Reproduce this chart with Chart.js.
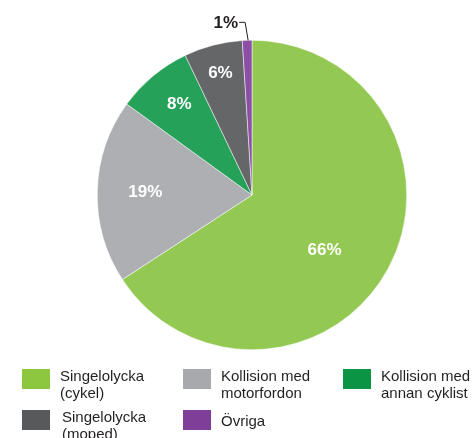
<!DOCTYPE html>
<html>
<head>
<meta charset="utf-8">
<script src="https://cdn.jsdelivr.net/npm/chart.js@4/dist/chart.umd.min.js"></script>
<style>
    body { margin: 0; background: #fff; }
    #wrap { position: relative; width: 476px; height: 438px; overflow: hidden; }
    #legend { position: absolute; left: 0; top: 0; width: 476px; height: 438px; font-family: "Liberation Sans", Arial, sans-serif; font-size: 15px; color: #231f20; line-height: 17px; }
    .item { position: absolute; }
    .box { position: absolute; width: 28px; height: 20px; }
    .txt { position: absolute; white-space: nowrap; }
</style>
</head>
<body>
<div id="wrap">
    <canvas id="myChart" width="476" height="438"></canvas>
    <div id="legend"></div>
</div>
<script>
const categories = ['Singelolycka (cykel)', 'Kollision med motorfordon', 'Kollision med annan cyklist', 'Singelolycka (moped)', 'Övriga'];
const legendLines = [['Singelolycka', '(cykel)'], ['Kollision med', 'motorfordon'], ['Kollision med', 'annan cyklist'], ['Singelolycka', '(moped)'], ['Övriga']];
const shares = [65.8, 19.2, 7.9, 6.1, 1.0];
const pctLabels = ['66%', '19%', '8%', '6%', '1%'];
const sliceColors = ['#93c952', '#aeafb3', '#25a159', '#656668', '#8b4fa6'];
const legendColors = ['#8dc63f', '#a7a9ac', '#0a9444', '#58595b', '#7f3f98'];

// placement of the percentage labels (fraction of radius, angle shift in degrees)
const labelPlace = [[0.59, 9], [0.69, 0], [0.75, 1], [0.81, 0]];

const pctPlugin = {
    id: 'pctLabels',
    afterDatasetsDraw(chart) {
        const ctx = chart.ctx;
        const arcs = chart.getDatasetMeta(0).data;
        ctx.save();
        ctx.font = 'bold 17px "Liberation Sans", Arial, sans-serif';
        ctx.textAlign = 'center';
        ctx.textBaseline = 'middle';
        arcs.forEach(function (arc, i) {
            const mid = (arc.startAngle + arc.endAngle) / 2;
            if (i < labelPlace.length) {
                const a = mid + labelPlace[i][1] * Math.PI / 180;
                const r = arc.outerRadius * labelPlace[i][0];
                ctx.fillStyle = '#ffffff';
                ctx.fillText(pctLabels[i], arc.x + Math.cos(a) * r, arc.y + Math.sin(a) * r);
            } else {
                // small slice: label outside with leader line
                const ex = arc.x + Math.cos(mid) * arc.outerRadius;
                const ey = arc.y + Math.sin(mid) * arc.outerRadius;
                ctx.strokeStyle = '#231f20';
                ctx.lineWidth = 1;
                ctx.beginPath();
                ctx.moveTo(ex + 1, ey);
                ctx.lineTo(ex - 2, ey - 18);
                ctx.lineTo(ex - 8, ey - 18);
                ctx.stroke();
                ctx.fillStyle = '#231f20';
                ctx.textAlign = 'right';
                ctx.fillText(pctLabels[i], ex - 9, ey - 17);
            }
        });
        ctx.restore();
    }
};

function buildLegend() {
    const pos = [[22, 369], [183, 369], [343, 369], [22, 410], [183, 410]];
    const el = document.getElementById('legend');
    categories.forEach(function (name, i) {
        const item = document.createElement('div');
        item.className = 'item';
        item.style.left = pos[i][0] + 'px';
        item.style.top = pos[i][1] + 'px';
        const box = document.createElement('div');
        box.className = 'box';
        box.style.background = legendColors[i];
        const txt = document.createElement('div');
        txt.className = 'txt';
        txt.style.left = (i === 3 ? 40 : 38) + 'px';
        txt.style.top = (legendLines[i].length > 1 ? -2 : 2) + 'px';
        txt.innerHTML = legendLines[i].join('<br>');
        txt.title = name;
        item.appendChild(box);
        item.appendChild(txt);
        el.appendChild(item);
    });
}

const ctx = document.getElementById('myChart').getContext('2d');
new Chart(ctx, {
    type: 'pie',
    data: {
        labels: categories,
        datasets: [{
            data: shares,
            backgroundColor: sliceColors,
            borderColor: '#ffffff',
            borderWidth: 0.5
        }]
    },
    options: {
        responsive: false,
        animation: false,
        layout: { padding: { left: 97, right: 69, top: 40, bottom: 88 } },
        plugins: {
            legend: { display: false },
            tooltip: { enabled: false }
        }
    },
    plugins: [pctPlugin]
});

buildLegend();
</script>
</body>
</html>
